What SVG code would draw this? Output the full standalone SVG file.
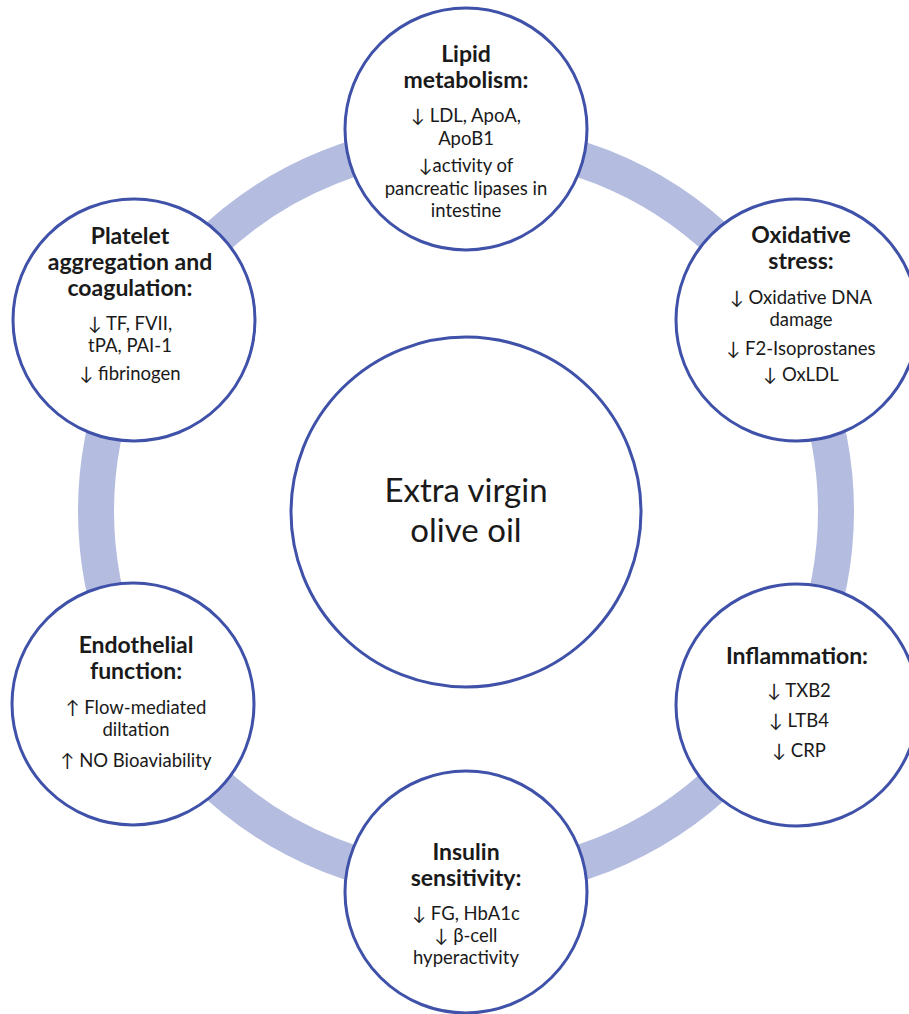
<svg xmlns="http://www.w3.org/2000/svg" width="909" height="1014" viewBox="0 0 909 1014">
<style>
.bg{fill:#ffffff}
.ring{fill:none;stroke:#b4bce0;stroke-width:36}
.node{fill:#ffffff;stroke:#3f51a8;stroke-width:3}
text{font-family:Lato,"Noto Sans","DejaVu Sans",sans-serif;fill:#1a1a1a;text-anchor:middle}
.t{font-weight:700;font-size:23px}
.b{font-size:18.5px}
.c{font-size:33px}
</style>
<rect class="bg" x="0" y="0" width="909" height="1014"/>
<g id="connectors">
<circle class="ring" cx="466" cy="511" r="370"/>
</g>
<g id="center">
<circle class="node" cx="466" cy="512" r="175"/>
<text class="c" x="466" y="502">Extra virgin</text>
<text class="c" x="466" y="542">olive oil</text>
</g>
<g id="lipid">
<circle class="node" cx="466" cy="129" r="121"/>
<text class="t" x="466" y="62">Lipid</text>
<text class="t" x="466" y="88">metabolism:</text>
<text class="b" x="466" y="122">↓ LDL, ApoA,</text>
<text class="b" x="466" y="145">ApoB1</text>
<text class="b" x="466" y="172">↓activity of</text>
<text class="b" x="466" y="195">pancreatic lipases in</text>
<text class="b" x="466" y="217">intestine</text>
</g>
<g id="oxidative">
<circle class="node" cx="797" cy="320" r="121"/>
<text class="t" x="801" y="243">Oxidative</text>
<text class="t" x="801" y="269">stress:</text>
<text class="b" x="801" y="304">↓ Oxidative DNA</text>
<text class="b" x="801" y="326">damage</text>
<text class="b" x="801" y="355">↓ F2-Isoprostanes</text>
<text class="b" x="801" y="381">↓ OxLDL</text>
</g>
<g id="inflammation">
<circle class="node" cx="797" cy="705" r="121"/>
<text class="t" x="797" y="664">Inflammation:</text>
<text class="b" x="799" y="697">↓ TXB2</text>
<text class="b" x="799" y="727">↓ LTB4</text>
<text class="b" x="799" y="757">↓ CRP</text>
</g>
<g id="insulin">
<circle class="node" cx="466" cy="892" r="121"/>
<text class="t" x="466" y="860">Insulin</text>
<text class="t" x="466" y="886">sensitivity:</text>
<text class="b" x="466" y="920">↓ FG, HbA1c</text>
<text class="b" x="466" y="942">↓ β-cell</text>
<text class="b" x="466" y="964">hyperactivity</text>
</g>
<g id="endothelial">
<circle class="node" cx="133" cy="704" r="121"/>
<text class="t" x="136" y="653">Endothelial</text>
<text class="t" x="136" y="679">function:</text>
<text class="b" x="136" y="714">↑ Flow-mediated</text>
<text class="b" x="136" y="736">diltation</text>
<text class="b" x="136" y="767">↑ NO Bioaviability</text>
</g>
<g id="platelet">
<circle class="node" cx="134" cy="320" r="121"/>
<text class="t" x="130" y="244">Platelet</text>
<text class="t" x="130" y="270">aggregation and</text>
<text class="t" x="130" y="296">coagulation:</text>
<text class="b" x="130" y="330">↓ TF, FVII,</text>
<text class="b" x="130" y="352">tPA, PAI-1</text>
<text class="b" x="130" y="380">↓ fibrinogen</text>
</g>
</svg>
